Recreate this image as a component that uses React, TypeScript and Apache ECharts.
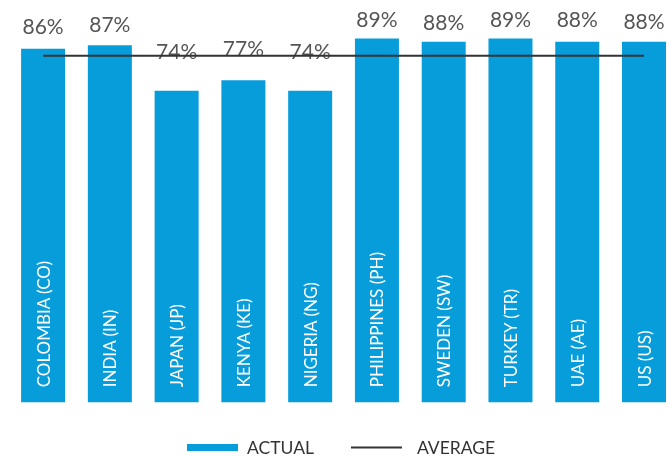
import React, { useEffect, useRef } from 'react';
import * as echarts from 'echarts';

const categories = [
  'COLOMBIA (CO)',
  'INDIA (IN)',
  'JAPAN (JP)',
  'KENYA (KE)',
  'NIGERIA (NG)',
  'PHILIPPINES (PH)',
  'SWEDEN (SW)',
  'TURKEY (TR)',
  'UAE (AE)',
  'US (US)',
];
const actualValues = [86, 87, 74, 77, 74, 89, 88, 89, 88, 88];
const AVERAGE_VALUE = 84;

// layout / style
const Y_MIN = -15.3;
const Y_MAX = 100;
const LABEL_GAP = [23, 22, 40, 33, 40, 20, 20, 20, 23, 21];
const BLUE = '#069DDA';
const FONT = 'Lato';

export default function App() {
  const ref = useRef<HTMLDivElement>(null);
  useEffect(() => {
    const chart = echarts.init(ref.current!, null, { renderer: 'svg' });
    chart.setOption({
      animation: false,
      grid: {
        left: 9.7,
        right: -8.4,
        top: 0,
        bottom: 54.7,
        containLabel: false,
        outerBoundsMode: 'none',
      },
      legend: {
        left: 187,
        top: 438.5,
        padding: 0,
        itemWidth: 51,
        itemHeight: 7,
        itemGap: 36,
        textStyle: { color: '#333', fontSize: 17.5, fontFamily: FONT, padding: [0, 0, 0, 4] },
        data: [
          { name: 'ACTUAL', icon: 'rect' },
          {
            name: 'AVERAGE',
            itemStyle: { color: 'rgba(0,0,0,0)', borderWidth: 0, opacity: 0 },
            textStyle: { color: '#333', fontSize: 17.5, fontFamily: FONT, padding: [0, 0, 0, 10] },
          },
        ],
      },
      xAxis: {
        type: 'category',
        data: categories,
        z: 10,
        axisLine: { show: false, onZero: false },
        axisTick: { show: false },
        axisLabel: {
          inside: true,
          rotate: 90,
          margin: 15,
          interval: 0,
          color: '#fff',
          fontSize: 17,
          fontFamily: FONT,
        },
      },
      yAxis: {
        type: 'value',
        min: Y_MIN,
        max: Y_MAX,
        show: false,
        splitLine: { show: false },
      },
      series: [
        {
          name: 'ACTUAL',
          type: 'custom',
          itemStyle: { color: BLUE },
          encode: { x: 0, y: 1 },
          data: actualValues.map((v, i) => [i, v]),
          renderItem: (params: any, api: any) => {
            const idx = params.dataIndex;
            const xi = api.value(0);
            const v = api.value(1);
            const top = api.coord([xi, v]);
            const base = api.coord([xi, Y_MIN]);
            const w = api.size([1, 0])[0] * 0.659;
            return {
              type: 'group',
              children: [
                {
                  type: 'rect',
                  shape: { x: top[0] - w / 2, y: top[1], width: w, height: base[1] - top[1] },
                  style: { fill: BLUE },
                },
                {
                  type: 'text',
                  x: top[0],
                  y: top[1] - LABEL_GAP[idx],
                  style: {
                    text: v + '%',
                    fill: '#555',
                    fontSize: 21,
                    fontFamily: FONT,
                    align: 'center',
                    verticalAlign: 'middle',
                  },
                },
              ],
            };
          },
        },
        {
          name: 'AVERAGE',
          type: 'line',
          symbol: 'none',
          color: '#333',
          lineStyle: { color: '#333', width: 2 },
          data: categories.map(() => AVERAGE_VALUE),
        },
      ],
    });
    return () => chart.dispose();
  }, []);
  return (
    <div
      ref={ref}
      style={{ position: 'fixed', left: 0, top: 0, width: 669, height: 457 }}
    />
  );
}
